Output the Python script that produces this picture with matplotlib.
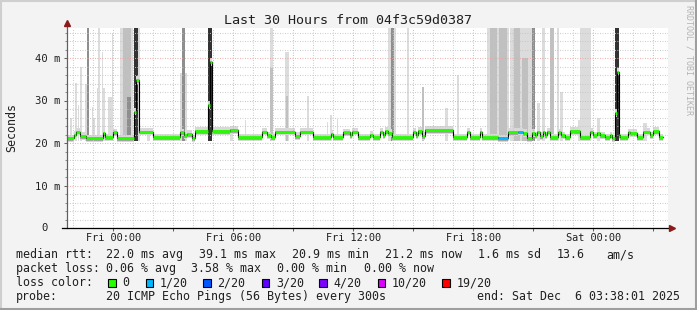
import matplotlib
matplotlib.use("Agg")
import matplotlib.pyplot as plt
from matplotlib.patches import Rectangle
from matplotlib.lines import Line2D
from matplotlib.ticker import MultipleLocator, FixedLocator, NullFormatter

# ---------------- data ----------------
# median rtt: step changes (hours relative to Fri 00:00) and value in ms
median_t = [-2.315, -1.97, -1.87, -1.67, -1.37, -0.52, -0.42, -0.02, 0.19, 1.04,
            1.14, 1.29, 1.99, 3.34, 3.54, 3.69, 3.94, 4.09, 4.74, 4.84,
            4.94, 5.84, 6.24, 7.44, 7.69, 7.89, 8.09, 9.09, 9.34, 9.99,
            10.89, 10.99, 11.49, 11.84, 11.94, 12.24, 12.84, 12.99, 13.34, 13.49,
            13.59, 13.74, 13.94, 14.99, 15.14, 15.24, 15.44, 15.59, 16.99, 17.69,
            17.84, 18.34, 18.44, 19.24, 19.74, 20.24, 20.49, 20.69, 20.94, 21.09,
            21.19, 21.34, 21.49, 21.59, 21.69, 21.84, 22.24, 22.39, 22.59, 22.84,
            23.34, 23.84, 23.99, 24.19, 24.34, 24.59, 24.84, 24.94, 25.09, 25.19,
            25.29, 25.34, 25.74, 25.84, 26.19, 26.49, 26.84, 26.99, 27.29]
median_ms = [21.1, 22.0, 22.7, 21.6, 21.1, 22.3, 21.3, 22.5, 21.1, 27.4,
             34.8, 22.7, 21.3, 22.5, 21.8, 22.1, 21.1, 22.8, 29.0, 39.1,
             22.8, 23.0, 21.3, 22.7, 21.8, 21.3, 22.7, 21.6, 22.7, 21.3,
             22.2, 21.3, 22.5, 21.8, 22.7, 21.3, 22.0, 21.3, 22.7, 21.8,
             22.8, 22.3, 21.3, 22.7, 21.8, 22.8, 21.6, 23.0, 21.3, 22.7,
             21.3, 22.7, 21.3, 21.1, 22.6, 22.7, 22.3, 21.1, 22.3, 21.8,
             22.7, 21.6, 22.7, 21.8, 22.7, 21.3, 22.5, 21.8, 21.3, 22.8,
             21.3, 22.7, 21.8, 22.3, 21.8, 21.3, 21.8, 21.1, 27.0, 36.8,
             21.8, 21.3, 22.5, 22.3, 21.3, 22.7, 21.8, 22.8, 21.3]
median_loss = [0, 0, 0, 0, 0, 0, 0, 0, 0, 0,
               0, 0, 0, 0, 0, 0, 0, 0, 0, 0,
               0, 0, 0, 0, 0, 0, 0, 0, 0, 0,
               0, 0, 0, 0, 0, 0, 0, 0, 0, 0,
               0, 0, 0, 0, 0, 0, 0, 0, 0, 0,
               0, 0, 0, 1, 0, 1, 0, 0, 0, 0,
               0, 0, 0, 0, 0, 0, 0, 0, 0, 0,
               0, 0, 0, 0, 0, 0, 0, 0, 0, 0,
               0, 0, 0, 0, 0, 0, 0, 0, 0]
median_end_t = 27.5

# smoke (ping spread) spikes: start/end hour, top ms, density level 1..4
smoke_t0 = [-2.32, -2.17, -1.92, -1.77, -1.67, -1.42, -1.32, -1.07, -1.02, -0.82,
            -0.77, -0.57, -0.52, -0.27, -0.07, 0.34, 0.49, 0.69, 1.04, 1.24,
            1.69, 3.34, 3.44, 4.74, 5.84, 6.59, 7.84, 7.84, 8.59, 8.64,
            9.69, 10.69, 10.84, 11.19, 13.74, 13.89, 14.69, 15.44, 16.59, 17.19,
            18.69, 18.84, 19.29, 19.84, 20.04, 20.44, 20.94, 21.19, 21.44, 21.84,
            22.19, 22.34, 23.24, 23.34, 24.19, 25.09, 26.49]
smoke_t1 = [-2.27, -2.07, -1.82, -1.72, -1.57, -1.32, -1.22, -1.02, -0.92, -0.77,
            -0.67, -0.52, -0.42, -0.07, -0.02, 0.99, 0.89, 0.89, 1.24, 1.34,
            1.84, 3.69, 3.59, 4.94, 5.99, 6.64, 7.99, 7.99, 8.79, 8.74,
            9.79, 10.74, 10.94, 11.24, 14.14, 14.04, 14.79, 15.54, 16.74, 17.29,
            19.79, 19.19, 19.69, 20.99, 20.34, 20.74, 21.09, 21.34, 21.59, 22.04,
            22.29, 22.49, 23.34, 23.89, 24.34, 25.29, 26.69]
smoke_top = [42.3, 25.9, 34.1, 29.0, 37.9, 34.0, 48.0, 28.5, 26.0, 33.0,
             48.0, 41.4, 33.0, 30.8, 45.9, 48.0, 48.0, 30.8, 48.0, 48.0,
             23.5, 36.5, 48.0, 48.0, 23.8, 25.4, 48.0, 37.6, 41.4, 31.0,
             31.1, 25.0, 26.6, 25.6, 48.0, 48.0, 48.0, 33.2, 28.2, 36.0,
             48.0, 48.0, 48.0, 48.0, 48.0, 40.0, 48.0, 29.4, 48.0, 48.0,
             48.0, 32.0, 25.5, 48.0, 26.0, 48.0, 24.6]
smoke_level = [1, 1, 1, 1, 1, 1, 3, 1, 1, 1,
               1, 1, 1, 1, 1, 1, 2, 3, 4, 1,
               1, 1, 3, 4, 1, 1, 1, 2, 1, 2,
               1, 1, 1, 1, 1, 3, 1, 2, 1, 1,
               1, 2, 2, 1, 2, 2, 3, 1, 1, 2,
               1, 1, 1, 1, 1, 4, 1]

loss_labels = ["0", "1/20", "2/20", "3/20", "4/20", "10/20", "19/20"]
loss_values = [0, 1, 2, 3, 4, 10, 19]
loss_colors = ["#26ff00", "#00b8ff", "#0059ff", "#5e00ff", "#7e00ff", "#dd00ff", "#ff0000"]

xtick_hours = [0, 6, 12, 18, 24]
xtick_labels = ["Fri 00:00", "Fri 06:00", "Fri 12:00", "Fri 18:00", "Sat 00:00"]
ytick_values = [0, 10, 20, 30, 40]
ytick_labels = ["0", "10 m", "20 m", "30 m", "40 m"]

title = "Last 30 Hours from 04f3c59d0387"
line_rtt = ["median rtt:", "22.0 ms avg", "39.1 ms max", "20.9 ms min",
            "21.2 ms now", "1.6 ms sd", "13.6", "am/s"]
line_loss = ["packet loss:", "0.06 % avg", "3.58 % max", "0.00 % min", "0.00 % now"]
line_probe = ["probe:", "20 ICMP Echo Pings (56 Bytes) every 300s",
              "end: Sat Dec  6 03:38:01 2025"]

# ---------------- layout ----------------
W, H = 697, 310
MONO = "DejaVu Sans Mono"
BG = "#f3f3f3"

fig = plt.figure(figsize=(W / 100, H / 100), dpi=100, facecolor=BG)

def fx(x):
    return x / W

def fy(y):
    return 1 - y / H

ax_l, ax_r, ax_t, ax_b = 67, 668, 28, 228
ax = fig.add_axes([fx(ax_l), fy(ax_b), (ax_r - ax_l) / W, (ax_b - ax_t) / H])
ax.set_facecolor("white")
ax.set_xlim(-2.315, 27.735)
ax.set_ylim(0, (ax_b - ax_t) / 4.25)
for s in ax.spines.values():
    s.set_visible(False)

# grid (drawn over the smoke, under the median)
ax.xaxis.set_major_locator(MultipleLocator(3))
ax.xaxis.set_minor_locator(MultipleLocator(1))
ax.yaxis.set_major_locator(FixedLocator(ytick_values))
ax.yaxis.set_minor_locator(MultipleLocator(2))
dot = (0, (0.8, 1.6))
ax.grid(which="major", color="#eba5a5", linestyle=dot, linewidth=0.75)
ax.grid(which="minor", color="#c4c4c4", linestyle=dot, linewidth=0.75)
ax.set_axisbelow(False)
for gl in ax.get_xgridlines() + ax.get_ygridlines():
    gl.set_zorder(2)
for gl in ax.xaxis.get_minorticklines():
    pass

ax.xaxis.set_major_formatter(NullFormatter())
ax.xaxis.set_minor_formatter(NullFormatter())
ax.tick_params(axis="x", which="major", length=2.2, width=0.75, color="#b04040", direction="out")
ax.tick_params(axis="x", which="minor", length=0)
ax.set_yticklabels([""] + ytick_labels[1:])
ax.tick_params(axis="y", which="major", length=2.5, width=0.75, color="#606060", pad=2.5,
               labelsize=7.6)
ax.tick_params(axis="y", which="minor", length=1.4, width=0.75, color="#909090")
for lab in ax.get_yticklabels():
    lab.set_fontfamily(MONO)
    lab.set_color("#202020")

# smoke
shade = {1: "#dcdcdc", 2: "#c0c0c0", 3: "#8e8e8e", 4: "#333333"}
order = sorted(range(len(smoke_t0)), key=lambda i: smoke_level[i])
for i in order:
    ax.bar(smoke_t0[i], smoke_top[i] - 20.4, width=smoke_t1[i] - smoke_t0[i], bottom=20.4,
           align="edge", color=shade[smoke_level[i]], linewidth=0, zorder=1)

xs = list(median_t) + [median_end_t]
ys = list(median_ms) + [median_ms[-1]]
ax.fill_between(xs, [v - 0.9 for v in ys], [v + 0.9 for v in ys], step="post",
                color="#d8d8d8", linewidth=0, zorder=1.5)
ax.fill_between(xs, [v - 0.6 for v in ys], [v + 0.2 for v in ys], step="post",
                color="#a4a4a4", linewidth=0, zorder=1.6)

# median
ax.step(xs, ys, where="post", color="black", linewidth=0.8, zorder=3)
cmap = dict(zip(loss_values, loss_colors))
ax.hlines(median_ms, median_t, xs[1:], colors=[cmap[l] for l in median_loss],
          linewidth=2.0, zorder=4)

# axes lines with arrows
ax.add_line(Line2D([0, 0], [0, 1.015], transform=ax.transAxes, color="#606060",
                   linewidth=0.9, clip_on=False, zorder=5))
ax.add_line(Line2D([-0.009, 1.0], [0, 0], transform=ax.transAxes, color="black",
                   linewidth=0.9, clip_on=False, zorder=5))
ax.plot([0], [1.025], marker="^", markersize=4.2, color="#8b1a1a", transform=ax.transAxes,
        clip_on=False, zorder=6)
ax.plot([1.0065], [0], marker=">", markersize=4.2, color="#8b1a1a", transform=ax.transAxes,
        clip_on=False, zorder=6)

# x tick labels
for h, lab in zip(xtick_hours, xtick_labels):
    ax.text(h, -(241 - ax_b) / (ax_b - ax_t), lab, transform=ax.get_xaxis_transform(),
            ha="center", va="baseline", fontsize=7.4, family=MONO, color="#202020")
# the zero label
fig.text(fx(47.8), fy(231.2), ytick_labels[0], ha="right", va="baseline",
         fontsize=7.6, family=MONO, color="#202020")

# titles
fig.text(fx(348), fy(24), title, ha="center", va="baseline", fontsize=9.6, family=MONO,
         color="#202020")
fig.text(fx(11.5), fy(128), "Seconds", rotation=90, ha="center", va="center",
         fontsize=8.4, family=MONO, color="#202020")
fig.text(fx(688.5), fy(60), "RRDTOOL / TOBI OETIKER", rotation=270, ha="center",
         va="center", fontsize=6.0, family=MONO, color="#b4b4b4")

# legend text
FS = 8.4
TC = "#202020"
x_rtt = [16, 106.6, 199.3, 292.6, 385.3, 478.3, 557.3, 606.6]
for s, x in zip(line_rtt, x_rtt):
    fig.text(fx(x - 0.5), fy(258.3), s, ha="left", va="baseline", fontsize=FS, family=MONO, color=TC)
x_loss = [16, 106.6, 192.0, 277.6, 364.3]
for s, x in zip(line_loss, x_loss):
    fig.text(fx(x - 0.5), fy(272.3), s, ha="left", va="baseline", fontsize=FS, family=MONO, color=TC)
fig.text(fx(15.5), fy(286.2), "loss color:", ha="left", va="baseline", fontsize=FS,
         family=MONO, color=TC)
box_x = [108.3, 145.7, 203.3, 261.7, 319.3, 377.7, 442.3]
lab_x = [123.3, 160.7, 218.3, 276.7, 334.3, 392.7, 457.3]
for bx, lx, lab, c in zip(box_x, lab_x, loss_labels, loss_colors):
    fig.add_artist(Rectangle((fx(bx), fy(286.5)), 7.5 / W, 8 / H, transform=fig.transFigure,
                             facecolor=c, edgecolor="black", linewidth=0.8))
    fig.text(fx(lx - 0.7), fy(286.2), lab, ha="left", va="baseline", fontsize=FS,
             family=MONO, color=TC)
x_probe = [16, 106.6, 477.6]
for s, x in zip(line_probe, x_probe):
    fig.text(fx(x - 0.5), fy(300.0), s, ha="left", va="baseline", fontsize=FS, family=MONO, color=TC)

# frame
fig.add_artist(Line2D([0, 1], [fy(0.8), fy(0.8)], transform=fig.transFigure, color="#cfcfcf", linewidth=1.5))
fig.add_artist(Line2D([fx(0.8), fx(0.8)], [0, 1], transform=fig.transFigure, color="#cfcfcf", linewidth=1.5))
fig.add_artist(Line2D([fx(696.2), fx(696.2)], [0, 1], transform=fig.transFigure, color="#9e9e9e", linewidth=1.5))
fig.add_artist(Line2D([0, 1], [fy(309.2), fy(309.2)], transform=fig.transFigure, color="#9e9e9e", linewidth=1.5))

fig.savefig("out.png", dpi=100, facecolor=BG)
